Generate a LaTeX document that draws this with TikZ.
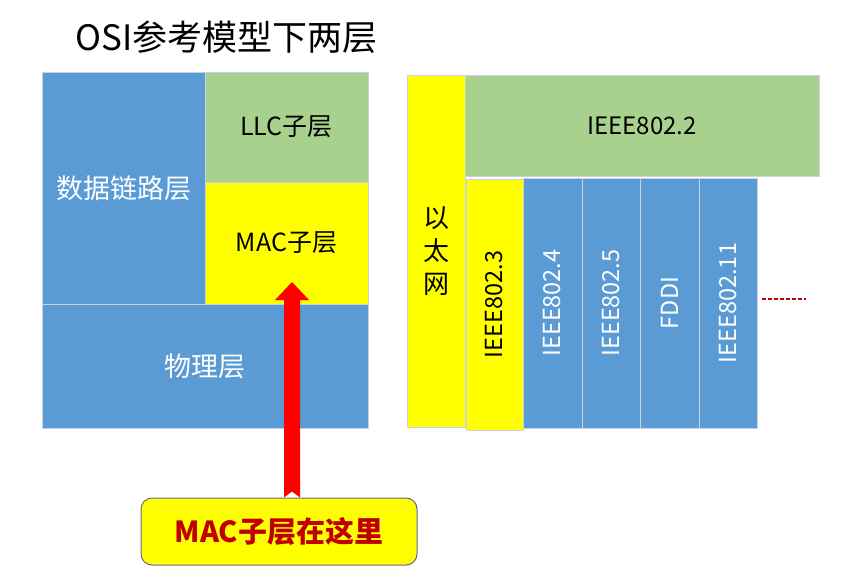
\documentclass[tikz,border=0pt]{standalone}
\usepackage{fontspec}
\setmainfont{Noto Sans CJK SC}
\usetikzlibrary{shadows}
\definecolor{cblue}{HTML}{5B9BD5}
\definecolor{cgreen}{HTML}{A9D18E}
\definecolor{cyel}{HTML}{FFFF00}
\definecolor{cred}{HTML}{FF0000}
\definecolor{dred}{HTML}{C00000}
\definecolor{edge}{HTML}{C9D3DD}
\begin{document}
\begin{tikzpicture}[x=1pt,y=-1pt,
  blk/.style={draw=edge, line width=0.7pt, inner sep=0pt, font=\fontsize{24}{26}\selectfont,
     drop shadow={opacity=0.18, shadow xshift=1.2pt, shadow yshift=-1.2pt}},
  cjk/.style={font=\fontsize{27}{30}\selectfont},
  bluebox/.style={blk, fill=cblue, text=white},
  greenbox/.style={blk, fill=cgreen, text=black},
  yelbox/.style={blk, fill=cyel, text=black},
  vert/.style={rotate=90, font=\fontsize{23.5}{26}\selectfont}]
\useasboundingbox (0,0) rectangle (859,580);
\node[anchor=base west, font=\fontsize{35}{38}\selectfont] (title) at (72,51) {OSI参考模型下两层};
% left block
\node[bluebox, cjk, minimum width=163pt, minimum height=232pt] (dll) at (123.5,188) {数据链路层};
\node[greenbox, minimum width=163pt, minimum height=110pt, font=\fontsize{25}{28}\selectfont] (llc) at (286.5,127) {LLC子层};
\node[yelbox, minimum width=163pt, minimum height=122pt, font=\fontsize{25}{28}\selectfont] (mac) at (286.5,243) {MAC子层};
\node[bluebox, cjk, minimum width=326pt, minimum height=124pt] (phy) at (205,366) {物理层};
% right block
\node[yelbox, minimum width=58pt, minimum height=352pt, align=center,
  font=\fontsize{26}{33}\selectfont] (eth) at (436,251) {以\\太\\网};
\node[greenbox, minimum width=354pt, minimum height=101pt] (i2) at (642,125.5) {IEEE802.2};
\node[yelbox, minimum height=57pt, minimum width=251pt, vert] (i3) at (494.5,304.5) {IEEE802.3};
\node[bluebox, minimum height=59pt, minimum width=250pt, vert] (i4) at (552.5,303) {IEEE802.4};
\node[bluebox, minimum height=58pt, minimum width=250pt, vert] (i5) at (611,303) {IEEE802.5};
\node[bluebox, minimum height=59pt, minimum width=250pt, vert] (fddi) at (669.5,303) {FDDI};
\node[bluebox, minimum height=58pt, minimum width=250pt, vert] (i11) at (728,303) {IEEE802.11};
\coordinate (dotA) at (762,299);
\coordinate (dotB) at (806,299);
\draw[dred, line width=1.6pt, dash pattern=on 3.5pt off 2.5pt] (dotA) -- (dotB);
% callout
\node[draw=black!70!blue!60, line width=1pt, fill=cyel, rounded corners=11pt,
  minimum width=276pt, minimum height=67pt, text=dred,
  font=\fontsize{29}{32}\selectfont\bfseries] (call) at (279,531.5) {MAC子层在这里};
% arrow from callout to MAC sublayer
\coordinate (tip) at (292,282);
\fill[cred] (call.north -| 284,0) -- (284,300) -- (275,300) -- (tip) -- (309,300) -- (300,300)
  -- (call.north -| 300,0) -- ([yshift=6pt]call.north -| 292,0) -- cycle;
\end{tikzpicture}
\end{document}
